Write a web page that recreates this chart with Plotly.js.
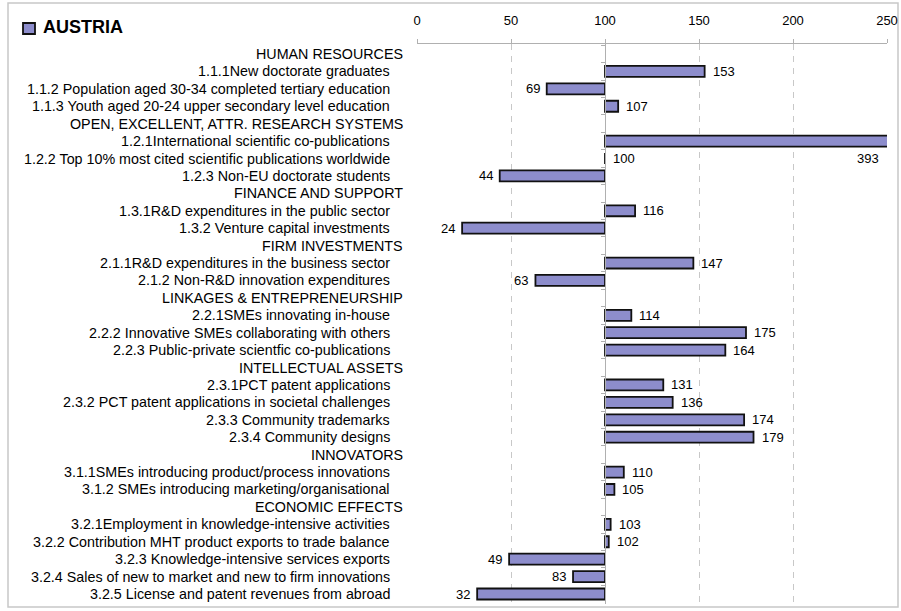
<!DOCTYPE html>
<html>
<head>
<meta charset="utf-8">
<script src="https://cdn.plot.ly/plotly-3.0.1.min.js"></script>
<style>html,body{margin:0;padding:0;background:#fff;}#chart{width:901px;height:611px;}</style>
</head>
<body>
<div id="chart"></div>
<script>
const countryName = "AUSTRIA";
const rowLabels = [
  "HUMAN RESOURCES",
  "1.1.1New doctorate graduates",
  "1.1.2 Population aged 30-34 completed tertiary education",
  "1.1.3 Youth aged 20-24 upper secondary level education",
  "OPEN, EXCELLENT, ATTR. RESEARCH SYSTEMS",
  "1.2.1International scientific co-publications",
  "1.2.2 Top 10% most cited scientific publications worldwide",
  "1.2.3 Non-EU doctorate students",
  "FINANCE AND SUPPORT",
  "1.3.1R&D expenditures in the public sector",
  "1.3.2 Venture capital investments",
  "FIRM INVESTMENTS",
  "2.1.1R&D expenditures in the business sector",
  "2.1.2 Non-R&D innovation expenditures",
  "LINKAGES & ENTREPRENEURSHIP",
  "2.2.1SMEs innovating in-house",
  "2.2.2 Innovative SMEs collaborating with others",
  "2.2.3 Public-private scientfic co-publications",
  "INTELLECTUAL ASSETS",
  "2.3.1PCT patent applications",
  "2.3.2 PCT patent applications in societal challenges",
  "2.3.3 Community trademarks",
  "2.3.4 Community designs",
  "INNOVATORS",
  "3.1.1SMEs introducing product/process innovations",
  "3.1.2 SMEs introducing marketing/organisational",
  "ECONOMIC EFFECTS",
  "3.2.1Employment in knowledge-intensive activities",
  "3.2.2 Contribution MHT product exports to trade balance",
  "3.2.3 Knowledge-intensive services exports",
  "3.2.4 Sales of new to market and new to firm innovations",
  "3.2.5 License and patent revenues from abroad"
];
const indexValues = [
  null, 153, 69, 107,
  null, 393, 100, 44,
  null, 116, 24,
  null, 147, 63,
  null, 114, 175, 164,
  null, 131, 136, 174, 179,
  null, 110, 105,
  null, 103, 102, 49, 83, 32
];
const euBase = 100;
const xTicks = [0, 50, 100, 150, 200, 250];

const FONT = "Arial, 'Liberation Sans', sans-serif";
const xMax = 250;
const BAR_COLOR = "#8d8dcc";

const trace = {
  type: "bar",
  orientation: "h",
  y: rowLabels,
  x: indexValues.map(v => v === null ? null : v - euBase),
  base: euBase,
  marker: {color: BAR_COLOR, line: {color: "#111", width: 1.8}},
  hoverinfo: "skip",
  showlegend: false,
  cliponaxis: true
};

const annotations = [];
rowLabels.forEach((lab, i) => {
  const header = indexValues[i] === null;
  annotations.push({
    xref: "paper", yref: "y", x: header ? -0.0255 : -0.0535, y: lab,
    text: lab.replace(/&/g, "&amp;"), showarrow: false, xanchor: "right", yanchor: "middle",
    font: {family: FONT, size: 14.3, color: "#000"}
  });
  if (!header) {
    const v = indexValues[i];
    let a = {xref: "x", yref: "y", y: lab, text: String(v), showarrow: false, yanchor: "middle",
      font: {family: FONT, size: 13, color: "#000"}};
    if (v > xMax) { a.x = xMax; a.xanchor = "right"; a.xshift = -6; a.yshift = -17; }
    else if (v >= euBase) { a.x = v; a.xanchor = "left"; a.xshift = 6; }
    else { a.x = v; a.xanchor = "right"; a.xshift = -5; }
    annotations.push(a);
  }
});
annotations.push({
  xref: "paper", yref: "paper", x: -0.8, y: 1.0, yshift: 17, xanchor: "left", yanchor: "middle",
  text: "<b>" + countryName + "</b>", showarrow: false,
  font: {family: FONT, size: 18, color: "#000"}
});

const plotW = 470, plotH = 560, mL = 417, mT = 44;
const px2x = p => (p - mL) / plotW;
const px2y = p => 1 - (p - mT) / plotH;

const shapes = [
  {type: "rect", xref: "paper", yref: "paper", x0: px2x(8), x1: px2x(898), y0: px2y(607), y1: px2y(3),
   line: {color: "#c8c8c8", width: 1.5}, fillcolor: "rgba(0,0,0,0)", layer: "below"},
  {type: "rect", xref: "paper", yref: "paper", x0: px2x(23), x1: px2x(35), y0: px2y(34), y1: px2y(23),
   line: {color: "#111", width: 1.8}, fillcolor: BAR_COLOR}
];

const layout = {
  width: 901, height: 611,
  margin: {l: mL, r: 901 - mL - plotW, t: mT, b: 611 - mT - plotH, pad: 0},
  paper_bgcolor: "#fff", plot_bgcolor: "#fff",
  bargap: 0.37,
  showlegend: false,
  xaxis: {
    side: "top", range: [0, xMax], tickvals: xTicks, ticktext: xTicks.map(String),
    showgrid: true, gridcolor: "#c8c8c8", griddash: "6px,6px", gridwidth: 1,
    showline: true, linecolor: "#b0b0b0", linewidth: 1.2,
    ticks: "outside", ticklen: 4, tickcolor: "#b0b0b0",
    ticklabelstandoff: 9,
    tickfont: {family: FONT, size: 13, color: "#000"},
    zeroline: false, fixedrange: true
  },
  yaxis: {
    type: "category", autorange: "reversed",
    showticklabels: false, showgrid: false, zeroline: false,
    anchor: "free", position: euBase / xMax,
    showline: true, linecolor: "#b0b0b0", linewidth: 1.2,
    ticks: "outside", ticklen: 4, tickcolor: "#b0b0b0", tickson: "boundaries",
    fixedrange: true
  },
  annotations: annotations,
  shapes: shapes
};

Plotly.newPlot("chart", [trace], layout, {displayModeBar: false, staticPlot: true});
</script>
</body>
</html>
